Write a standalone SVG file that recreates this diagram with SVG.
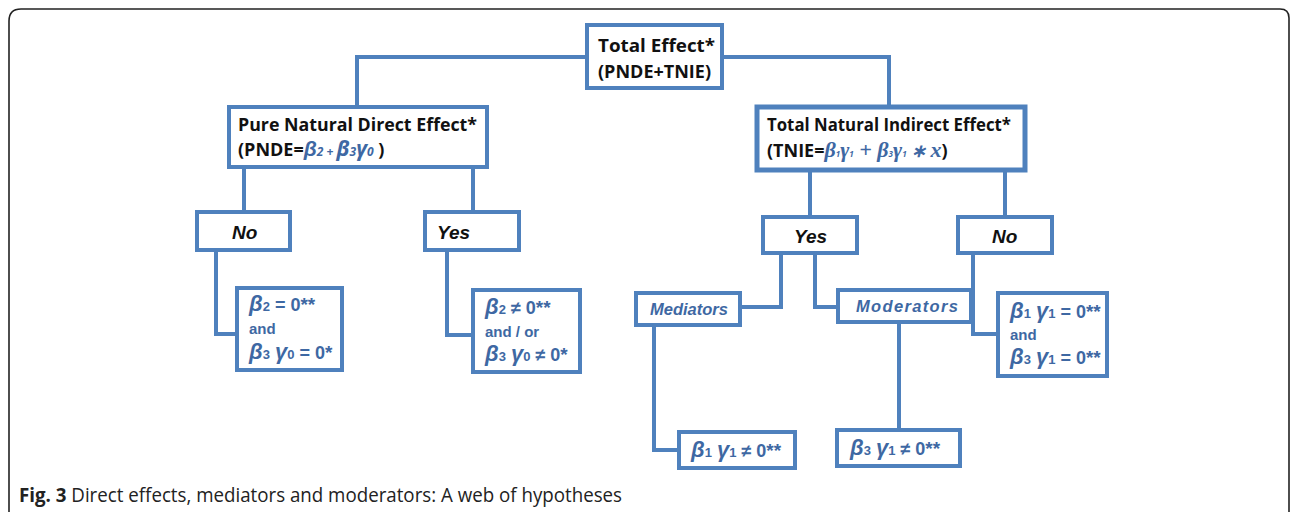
<svg xmlns="http://www.w3.org/2000/svg" width="1292" height="512" viewBox="0 0 1292 512">
  <style>
    .box { fill: #ffffff; stroke: #4f81bd; stroke-width: 4; }
    .wire { fill: none; stroke: #4f81bd; stroke-width: 4; }
    .hd { font-family: "Open Sans", "Liberation Sans", sans-serif; font-weight: bold; font-size: 18px; fill: #111111; }
    .yn { font-family: "Liberation Sans", Arial, sans-serif; font-weight: bold; font-style: italic; font-size: 19px; fill: #111111; }
    .lab { font-family: "Liberation Sans", Arial, sans-serif; font-weight: bold; font-style: italic; font-size: 16.5px; fill: #3e68a3; }
    .eq { font-family: "Liberation Sans", Arial, sans-serif; font-weight: bold; font-size: 18px; fill: #3e68a3; }
    .gk { font-style: italic; font-size: 22px; }
    .sub { font-size: 13px; }
    .ast { font-size: 19px; }
    .and { font-size: 15px; }
    .fm { fill: #3e68a3; font-weight: bold; font-style: italic; }
    .cap { font-family: "Open Sans", "Liberation Sans", sans-serif; font-size: 20px; fill: #222222; }
  </style>

  <!-- frame -->
  <path d="M9,530 L9,21 Q9,9 21,9 L1280,9 Q1289,9 1289,18 L1289,530" fill="none" stroke="#222" stroke-width="1.6"/>

  <!-- connectors -->
  <g id="connectors">
    <path class="wire" d="M587,57 H357 V107"/>
    <path class="wire" d="M722,57 H889 V107"/>
    <path class="wire" d="M244,167 V212"/>
    <path class="wire" d="M473,167 V212"/>
    <path class="wire" d="M810,170 V217"/>
    <path class="wire" d="M1005,170 V217"/>
    <path class="wire" d="M216,250 V334 H237"/>
    <path class="wire" d="M447,250 V335 H473"/>
    <path class="wire" d="M781,253 V307 H740"/>
    <path class="wire" d="M815,253 V307 H838"/>
    <path class="wire" d="M654,325 V450 H679"/>
    <path class="wire" d="M899,322 V430"/>
    <path class="wire" d="M973,253 V334 H998"/>
  </g>

  <g id="total">
    <rect class="box" x="587" y="25" width="135" height="63"/>
    <text class="hd" x="598" y="52" textLength="117" lengthAdjust="spacingAndGlyphs">Total Effect*</text>
    <text class="hd" x="598" y="78" textLength="113" lengthAdjust="spacingAndGlyphs">(PNDE+TNIE)</text>
  </g>

  <g id="pnde">
    <rect class="box" x="229" y="107" width="258" height="60"/>
    <text class="hd" x="238" y="131" textLength="239" lengthAdjust="spacingAndGlyphs">Pure Natural Direct Effect*</text>
    <text class="hd" x="238" y="156">(PNDE=<tspan class="fm" font-family="Liberation Sans, Arial, sans-serif" font-size="21">β</tspan><tspan class="fm" font-size="12" font-style="normal">2 + </tspan><tspan class="fm" font-size="21">β</tspan><tspan class="fm" font-size="12" font-style="normal">3</tspan><tspan class="fm" font-size="21">γ</tspan><tspan class="fm" font-size="12" font-style="normal">0</tspan> )</text>
  </g>

  <g id="tnie">
    <rect class="box" x="757" y="107" width="268" height="63" style="stroke-width:5"/>
    <text class="hd" x="767" y="131" textLength="244" lengthAdjust="spacingAndGlyphs">Total Natural Indirect Effect*</text>
    <text class="hd" x="767" y="157">(TNIE=<tspan class="fm" font-family="Liberation Serif, serif" font-size="22">β</tspan><tspan class="fm" font-size="8">1</tspan><tspan class="fm" font-family="Liberation Serif, serif" font-size="22">γ</tspan><tspan class="fm" font-size="8">1</tspan><tspan class="fm" font-family="Liberation Serif, serif" font-size="22" font-style="normal" font-weight="normal"> + </tspan><tspan class="fm" font-family="Liberation Serif, serif" font-size="22">β</tspan><tspan class="fm" font-size="8">3</tspan><tspan class="fm" font-family="Liberation Serif, serif" font-size="22">γ</tspan><tspan class="fm" font-size="8">1</tspan><tspan class="fm" font-family="Liberation Serif, serif" font-size="18" font-style="normal" font-weight="normal"> ∗ </tspan><tspan class="fm" font-family="Liberation Serif, serif" font-size="22">x</tspan>)</text>
  </g>

  <g id="no-left">
    <rect class="box" x="197" y="212" width="93" height="38"/>
    <text class="yn" x="232" y="239">No</text>
  </g>

  <g id="yes-left">
    <rect class="box" x="425" y="212" width="94" height="38"/>
    <text class="yn" x="437" y="239">Yes</text>
  </g>

  <g id="yes-right">
    <rect class="box" x="763" y="217" width="94" height="36"/>
    <text class="yn" x="794" y="243">Yes</text>
  </g>

  <g id="no-right">
    <rect class="box" x="958" y="217" width="94" height="36"/>
    <text class="yn" x="992" y="243">No</text>
  </g>

  <g id="pnde-zero">
    <rect class="box" x="237" y="288" width="105" height="82"/>
    <text class="eq" x="249" y="311"><tspan class="gk">β</tspan><tspan class="sub">2</tspan> = 0<tspan class="ast">**</tspan></text>
    <text class="eq and" x="249" y="334">and</text>
    <text class="eq" x="249" y="359"><tspan class="gk">β</tspan><tspan class="sub">3</tspan> <tspan class="gk">γ</tspan><tspan class="sub">0</tspan> = 0<tspan class="ast">*</tspan></text>
  </g>

  <g id="pnde-nonzero">
    <rect class="box" x="473" y="290" width="107" height="82"/>
    <text class="eq" x="485" y="314"><tspan class="gk">β</tspan><tspan class="sub">2</tspan>  ≠ 0<tspan class="ast">**</tspan></text>
    <text class="eq and" x="485" y="337">and / or</text>
    <text class="eq" x="485" y="361"><tspan class="gk">β</tspan><tspan class="sub">3</tspan> <tspan class="gk">γ</tspan><tspan class="sub">0</tspan> ≠ 0<tspan class="ast">*</tspan></text>
  </g>

  <g id="mediators">
    <rect class="box" x="636" y="293" width="104" height="32"/>
    <text class="lab" x="650" y="315">Mediators</text>
  </g>

  <g id="moderators">
    <rect class="box" x="838" y="290" width="133" height="32"/>
    <text class="lab" x="856" y="312" textLength="102" lengthAdjust="spacing">Moderators</text>
  </g>

  <g id="mediator-test">
    <rect class="box" x="679" y="432" width="116" height="36"/>
    <text class="eq" x="691" y="457"><tspan class="gk">β</tspan><tspan class="sub">1</tspan> <tspan class="gk">γ</tspan><tspan class="sub">1</tspan> ≠ 0<tspan class="ast">**</tspan></text>
  </g>

  <g id="moderator-test">
    <rect class="box" x="837" y="430" width="123" height="36"/>
    <text class="eq" x="850" y="455"><tspan class="gk">β</tspan><tspan class="sub">3</tspan> <tspan class="gk">γ</tspan><tspan class="sub">1</tspan> ≠  0<tspan class="ast">**</tspan></text>
  </g>

  <g id="tnie-zero">
    <rect class="box" x="998" y="293" width="109" height="83"/>
    <text class="eq" x="1010" y="318"><tspan class="gk">β</tspan><tspan class="sub">1</tspan> <tspan class="gk">γ</tspan><tspan class="sub">1</tspan> = 0<tspan class="ast">**</tspan></text>
    <text class="eq and" x="1010" y="340">and</text>
    <text class="eq" x="1010" y="364"><tspan class="gk">β</tspan><tspan class="sub">3</tspan> <tspan class="gk">γ</tspan><tspan class="sub">1</tspan> = 0<tspan class="ast">**</tspan></text>
  </g>

  <text class="cap" x="19" y="502" textLength="603" lengthAdjust="spacingAndGlyphs"><tspan font-weight="bold">Fig. 3</tspan> Direct effects, mediators and moderators: A web of hypotheses</text>
</svg>
